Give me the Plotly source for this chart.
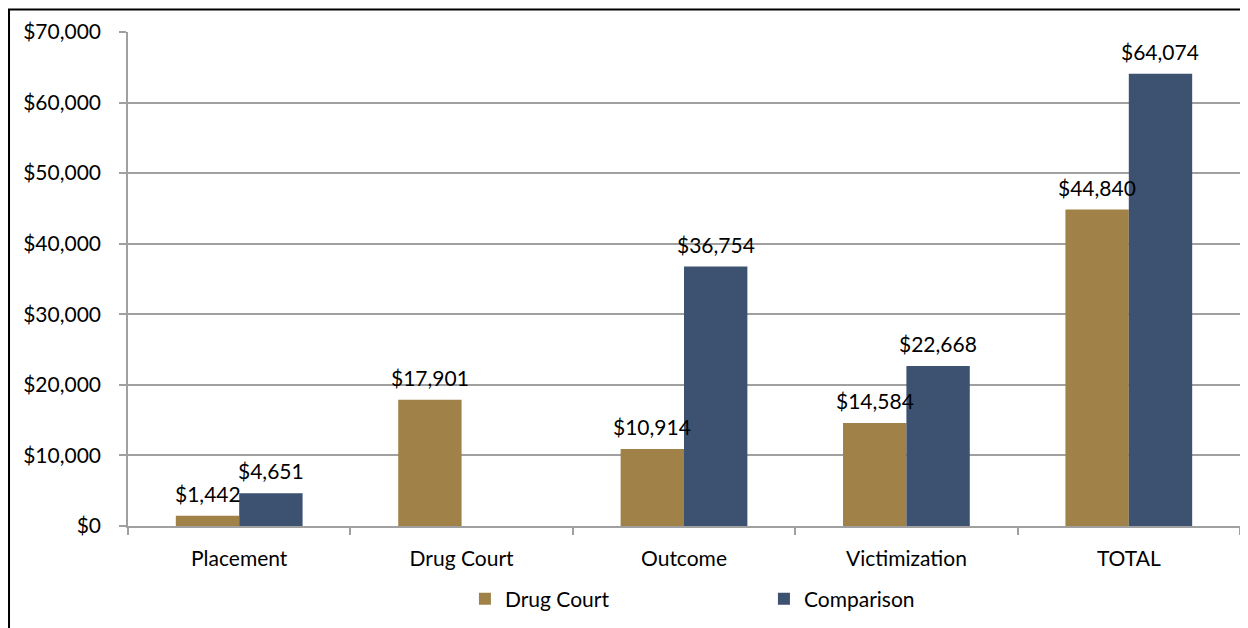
import plotly.graph_objects as go

categories = ["Placement", "Drug Court", "Outcome", "Victimization", "TOTAL"]
drug_court = [1442, 17901, 10914, 14584, 44840]
comparison = [4651, None, 36754, 22668, 64074]
series_names = ["Drug Court", "Comparison"]
y_ticks = [0, 10000, 20000, 30000, 40000, 50000, 60000, 70000]
y_tick_text = ["${:,}".format(v) for v in y_ticks]

GOLD = "#A08249"
NAVY = "#3D5170"
GRID = "#A0A0A0"
FONT = "Lato"
FS = 21
BARGAP = 0.43

fig = go.Figure()
fig.add_trace(go.Bar(name=series_names[0], x=categories, y=drug_court,
                     marker=dict(color=GOLD, line=dict(width=0))))
fig.add_trace(go.Bar(name=series_names[1], x=categories, y=comparison,
                     marker=dict(color=NAVY, line=dict(width=0))))

# data labels positioned above each bar, from bar geometry
half = (1 - BARGAP) / 4.0
annotations = []
for s, vals in enumerate([drug_court, comparison]):
    for i, v in enumerate(vals):
        if v is None:
            continue
        annotations.append(dict(
            x=i + (-half if s == 0 else half), y=v, xref="x", yref="y",
            text="${:,}".format(v), showarrow=False, yanchor="bottom",
            yshift=8, font=dict(family=FONT, size=FS, color="#000000")))

fig.update_layout(
    width=1240, height=620,
    margin=dict(l=120, r=8, t=24, b=89),
    paper_bgcolor="white", plot_bgcolor="white",
    barmode="group", bargap=BARGAP, bargroupgap=0,
    font=dict(family=FONT, size=FS, color="#000000"),
    showlegend=True,
    legend=dict(orientation="h", x=0.303, xanchor="left", y=-0.148, yanchor="middle",
                font=dict(family=FONT, size=FS), entrywidth=254, entrywidthmode="pixels",
                itemwidth=30, traceorder="normal", bgcolor="rgba(0,0,0,0)"),
    annotations=annotations,
    shapes=[dict(type="rect", xref="paper", yref="paper",
                 x0=-0.1070, x1=1.0063, y0=-0.3, y1=1.0454,
                 line=dict(color="#000000", width=2), fillcolor="rgba(0,0,0,0)",
                 layer="below")],
)
fig.update_xaxes(
    type="category", showline=True, linecolor=GRID, linewidth=1.5,
    ticks="outside", tickson="boundaries", ticklen=7, tickcolor=GRID, tickwidth=1.5,
    showgrid=False, ticklabelstandoff=13,
    tickfont=dict(family=FONT, size=FS, color="#000000"),
)
fig.update_yaxes(
    range=[0, 70000], tickvals=y_ticks, ticktext=y_tick_text,
    showline=True, linecolor=GRID, linewidth=1.5,
    ticks="outside", ticklen=7, tickcolor=GRID, tickwidth=1.5,
    showgrid=True, gridcolor=GRID, gridwidth=1.5, zeroline=False,
    ticklabelstandoff=14,
    tickfont=dict(family=FONT, size=FS, color="#000000"),
)

fig.write_html("out.html")
